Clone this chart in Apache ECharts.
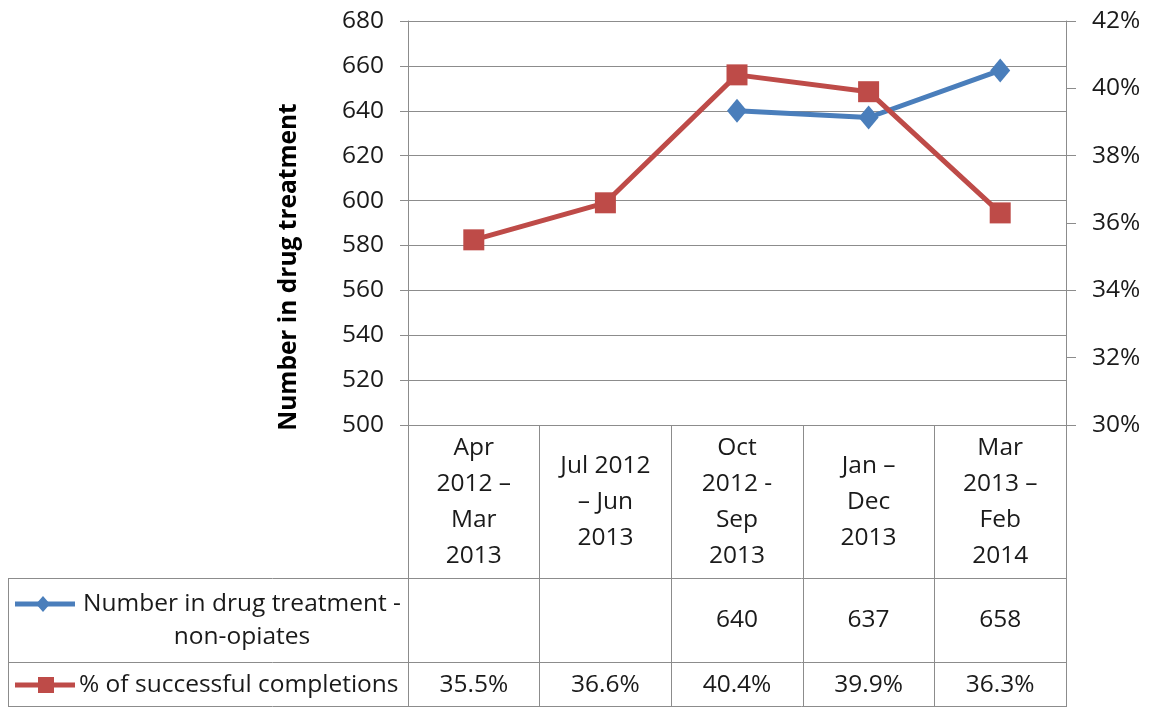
<!DOCTYPE html>
<html>
<head>
<meta charset="utf-8">
<script src="https://cdn.jsdelivr.net/npm/echarts@6/dist/echarts.min.js"></script>
<style>
html,body{margin:0;padding:0;background:#fff;}
#chart{width:1153px;height:709px;}
</style>
</head>
<body>
<div id="chart"></div>
<script>
const categories = ['Apr\n2012 –\nMar\n2013', 'Jul 2012\n– Jun\n2013', 'Oct\n2012 -\nSep\n2013', 'Jan –\nDec\n2013', 'Mar\n2013 –\nFeb\n2014'];
const treatmentNumbers = [null, null, 640, 637, 658];
const successRates = [35.5, 36.6, 40.4, 39.9, 36.3];
const seriesNames = ['Number in drug treatment - non-opiates', '% of successful completions'];
const leftAxisRange = {min: 500, max: 680, interval: 20};
const rightAxisRange = {min: 30, max: 42, interval: 2};
const yAxisTitle = 'Number in drug treatment';

const FONT = 'Open Sans';
const FS = 24.5;
const TXT = '#1a1a1a';
const GRID_C = '#8c8c8c';
const BLUE = '#4A7EBB';
const RED = '#BE4B48';

const chart = echarts.init(document.getElementById('chart'));

function tableAxis(values, fmt, margin) {
  return {
    type: 'category', position: 'bottom', gridIndex: 0, data: categories,
    axisLine: {show: false}, axisTick: {show: false}, splitLine: {show: false},
    axisLabel: {
      interval: 0, margin: margin, verticalAlign: 'middle', align: 'center',
      fontFamily: FONT, fontSize: FS, color: TXT,
      formatter: (v, i) => (values[i] == null ? '' : fmt(values[i]))
    }
  };
}

const option = {
  animation: false,
  backgroundColor: '#fff',
  grid: {left: 408, right: 87, top: 21, bottom: 284, containLabel: false},
  xAxis: [
    {
      type: 'category', position: 'bottom', data: categories, boundaryGap: true,
      axisLine: {show: true, lineStyle: {color: GRID_C, width: 1}},
      axisTick: {show: true, interval: 0, length: 282, lineStyle: {color: GRID_C, width: 1}},
      splitLine: {show: false},
      axisLabel: {interval: 0, margin: 77, verticalAlign: 'middle', align: 'center',
        fontFamily: FONT, fontSize: FS, color: TXT, lineHeight: 36}
    },
    tableAxis(treatmentNumbers, v => String(v), 195),
    tableAxis(successRates, v => v.toFixed(1) + '%', 260)
  ],
  yAxis: [
    {
      type: 'value', position: 'left', min: leftAxisRange.min, max: leftAxisRange.max, interval: leftAxisRange.interval,
      name: yAxisTitle, nameLocation: 'middle', nameRotate: 90, nameGap: 106,
      nameTextStyle: {fontFamily: FONT, fontSize: FS, fontWeight: 'bold', color: '#000', padding: [0, 88, 0, 0]},
      axisLine: {show: true, lineStyle: {color: GRID_C}},
      axisTick: {show: true, inside: false, length: 8, lineStyle: {color: GRID_C}},
      splitLine: {show: true, lineStyle: {color: GRID_C, width: 1}},
      axisLabel: {margin: 24, fontFamily: FONT, fontSize: FS, color: TXT}
    },
    {
      type: 'value', position: 'right', min: rightAxisRange.min, max: rightAxisRange.max, interval: rightAxisRange.interval,
      axisLine: {show: true, lineStyle: {color: GRID_C}},
      axisTick: {show: true, inside: false, length: 10, lineStyle: {color: GRID_C}},
      splitLine: {show: false},
      axisLabel: {margin: 26, fontFamily: FONT, fontSize: FS, color: TXT, formatter: v => v + '%'}
    }
  ],
  series: [
    {
      name: seriesNames[0], type: 'line', xAxisIndex: 0, yAxisIndex: 0, data: treatmentNumbers,
      connectNulls: false, symbol: 'diamond', symbolSize: [20, 24],
      lineStyle: {color: BLUE, width: 5}, itemStyle: {color: BLUE}, z: 3
    },
    {
      name: seriesNames[1], type: 'line', xAxisIndex: 0, yAxisIndex: 1, data: successRates,
      symbol: 'rect', symbolSize: 21,
      lineStyle: {color: RED, width: 5}, itemStyle: {color: RED}, z: 4
    }
  ],
  graphic: [
    {type: 'line', shape: {x1: 8, y1: 578.5, x2: 1066, y2: 578.5}, style: {stroke: GRID_C, lineWidth: 1}},
    {type: 'line', shape: {x1: 8, y1: 662.5, x2: 1066, y2: 662.5}, style: {stroke: GRID_C, lineWidth: 1}},
    {type: 'line', shape: {x1: 8, y1: 706.5, x2: 1066, y2: 706.5}, style: {stroke: GRID_C, lineWidth: 1}},
    {type: 'line', shape: {x1: 8.5, y1: 578, x2: 8.5, y2: 707}, style: {stroke: GRID_C, lineWidth: 1}},
    // legend key 1
    {type: 'line', shape: {x1: 15, y1: 604, x2: 75, y2: 604}, style: {stroke: BLUE, lineWidth: 5}},
    {type: 'polygon', shape: {points: [[43, 596], [50, 604], [43, 612], [36, 604]]}, style: {fill: BLUE}},
    {type: 'text', x: 242, y: 604, style: {text: 'Number in drug treatment -', font: FS + 'px "' + FONT + '"', fill: TXT, align: 'center', verticalAlign: 'middle'}},
    {type: 'text', x: 242, y: 637, style: {text: 'non-opiates', font: FS + 'px "' + FONT + '"', fill: TXT, align: 'center', verticalAlign: 'middle'}},
    // legend key 2
    {type: 'line', shape: {x1: 15, y1: 685, x2: 75, y2: 685}, style: {stroke: RED, lineWidth: 5}},
    {type: 'rect', shape: {x: 38, y: 677, width: 16, height: 16}, style: {fill: RED}},
    {type: 'text', x: 79, y: 685, style: {text: '% of successful completions', font: FS + 'px "' + FONT + '"', fill: TXT, align: 'left', verticalAlign: 'middle'}}
  ]
};
chart.setOption(option);
</script>
</body>
</html>
